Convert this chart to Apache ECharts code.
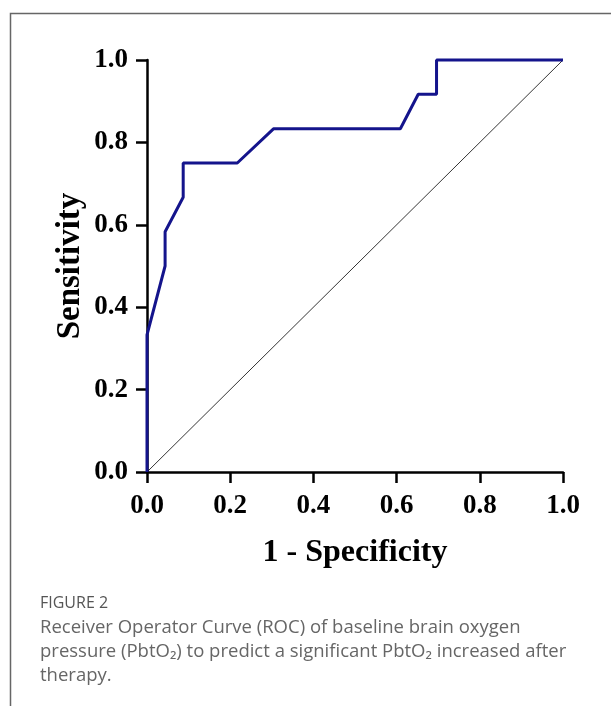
<!DOCTYPE html>
<html>
<head>
<meta charset="utf-8">
<script src="https://cdn.jsdelivr.net/npm/echarts@6/dist/echarts.min.js"></script>
<style>
html,body{margin:0;padding:0;background:#fff;}
#c{width:611px;height:706px;}
</style>
</head>
<body>
<div id="c"></div>
<script>
// ROC curve values
const fpr = [0, 0, 0.0435, 0.0435, 0.087, 0.087, 0.217, 0.304, 0.609, 0.652, 0.696, 0.696, 1];
const tpr = [0, 0.333, 0.5, 0.583, 0.667, 0.75, 0.75, 0.833, 0.833, 0.917, 0.917, 1, 1];
const refX = [0, 1];
const refY = [0, 1];
const xTitle = '1 - Specificity';
const yTitle = 'Sensitivity';
const figLabel = 'FIGURE 2';
const captionLines = [
  'Receiver Operator Curve (ROC) of baseline brain oxygen',
  'pressure (PbtO\u2082) to predict a significant PbtO\u2082 increased after',
  'therapy.'
];

const serif = '"Liberation Serif","Times New Roman",serif';
const chart = echarts.init(document.getElementById('c'));
const axisCommon = {
  type: 'value', min: 0, max: 1, interval: 0.2,
  axisLine: { show: true, onZero: false, lineStyle: { color: '#000', width: 2.5 } },
  axisTick: { show: true, inside: false, length: 11, lineStyle: { color: '#000', width: 2.5 } },
  splitLine: { show: false },
  axisLabel: { color: '#000', fontFamily: serif, fontWeight: 'bold', fontSize: 27,
    formatter: v => v.toFixed(1) },
  nameLocation: 'middle',
  nameMoveOverlap: false,
  nameTextStyle: { color: '#000', fontFamily: serif, fontWeight: 'bold', fontSize: 32 }
};
chart.setOption({
  animation: false,
  grid: { left: 147, top: 60, right: 48, bottom: 234 },
  xAxis: Object.assign({}, axisCommon, {
    name: xTitle, nameGap: 65,
    axisLabel: Object.assign({}, axisCommon.axisLabel, { margin: 21 })
  }),
  yAxis: Object.assign({}, axisCommon, {
    name: yTitle, nameGap: 60,
    nameTextStyle: Object.assign({}, axisCommon.nameTextStyle, { fontSize: 33 }),
    axisLabel: Object.assign({}, axisCommon.axisLabel, { margin: 19 })
  }),
  series: [
    { type: 'line', data: refX.map((x, i) => [x, refY[i]]), symbol: 'none',
      lineStyle: { color: '#000', width: 0.8 }, z: 2 },
    { type: 'line', data: fpr.map((x, i) => [x, tpr[i]]), symbol: 'none',
      lineStyle: { color: '#14148c', width: 3 }, z: 3, clip: false }
  ],
  graphic: [
    { type: 'polyline', shape: { points: [[10.5, 706], [10.5, 13.5], [611, 13.5]] },
      style: { stroke: '#666', lineWidth: 1.5, fill: null } },
    { type: 'text', left: 40, top: 595,
      style: { text: figLabel, fill: '#555', font: '16px "Open Sans", sans-serif' } },
    { type: 'text', left: 40, top: 616,
      style: { text: captionLines.join('\n'), fill: '#666', lineHeight: 24,
        font: '18.5px "Open Sans", sans-serif' } }
  ]
});
</script>
</body>
</html>
